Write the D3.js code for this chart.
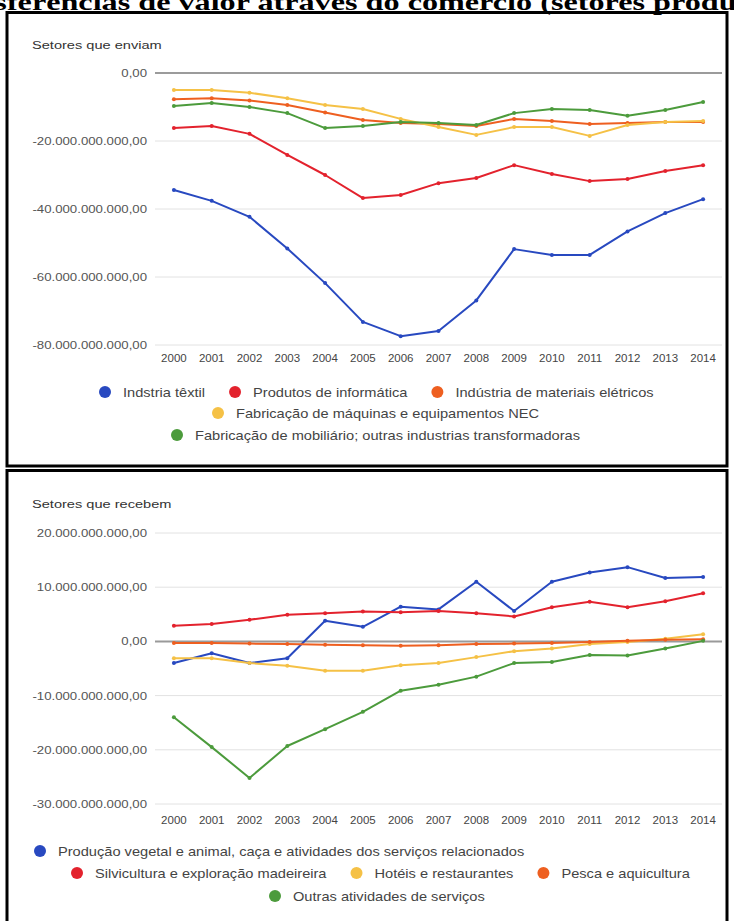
<!DOCTYPE html>
<html><head><meta charset="utf-8">
<script src="https://cdn.jsdelivr.net/npm/d3@7"></script>
<style>
body{margin:0;background:#fff;overflow:hidden}
svg{display:block}
text{font-family:"Liberation Sans",Arial,sans-serif}
</style>
</head><body>
<script>
// ---------- DATA (values in billions) ----------
const years = ["2000","2001","2002","2003","2004","2005","2006","2007","2008","2009","2010","2011","2012","2013","2014"];

const docTitle = "Transferências de valor através do comércio (setores produtivos)";

// Top chart: "Setores que enviam"
const sendTitle = "Setores que enviam";
const sendNames = ["Indstria têxtil","Produtos de informática","Indústria de materiais elétricos","Fabricação de máquinas e equipamentos NEC","Fabricação de mobiliário; outras industrias transformadoras"];
const textil      = [-34.4,-37.6,-42.3,-51.6,-61.8,-73.2,-77.4,-75.9,-66.9,-51.8,-53.5,-53.5,-46.6,-41.2,-37.1];
const informatica = [-16.2,-15.6,-17.9,-24.1,-30.0,-36.8,-35.9,-32.4,-30.9,-27.1,-29.7,-31.8,-31.2,-28.8,-27.1];
const eletricos   = [-7.7,-7.4,-8.1,-9.4,-11.6,-13.8,-14.7,-15.0,-15.6,-13.5,-14.1,-15.0,-14.7,-14.4,-14.4];
const maquinas    = [-5.0,-5.0,-5.8,-7.4,-9.4,-10.6,-13.5,-15.9,-18.2,-15.9,-15.9,-18.5,-15.3,-14.4,-14.1];
const mobiliario  = [-9.7,-8.8,-10.0,-11.8,-16.2,-15.6,-14.4,-14.7,-15.3,-11.8,-10.6,-10.9,-12.6,-10.9,-8.5];
const sendTicks = [0,-20,-40,-60,-80];

// Bottom chart: "Setores que recebem"
const recvTitle = "Setores que recebem";
const recvNames = ["Produção vegetal e animal, caça e atividades dos serviços relacionados","Silvicultura e exploração madeireira","Hotéis e restaurantes","Pesca e aquicultura","Outras atividades de serviços"];
const producao    = [-4.0,-2.2,-4.0,-3.1,3.8,2.7,6.4,5.9,11.0,5.6,11.0,12.7,13.7,11.7,11.9];
const silvicultura= [2.9,3.2,4.0,4.9,5.2,5.5,5.4,5.6,5.2,4.6,6.3,7.3,6.3,7.4,8.9];
const hoteis      = [-3.1,-3.1,-4.0,-4.5,-5.4,-5.4,-4.4,-4.0,-2.9,-1.8,-1.3,-0.5,-0.1,0.5,1.3];
const pesca       = [-0.3,-0.3,-0.4,-0.5,-0.6,-0.7,-0.8,-0.7,-0.5,-0.4,-0.3,-0.1,0.1,0.3,0.4];
const outras      = [-14.0,-19.5,-25.2,-19.3,-16.2,-13.0,-9.1,-8.0,-6.5,-4.0,-3.8,-2.5,-2.6,-1.3,0.1];
const recvTicks = [20,10,0,-10,-20,-30];

const colors = {blue:"#2849c0", red:"#e3222d", orange:"#ee5f20", yellow:"#f5c146", green:"#4c9b3c"};

// ---------- RENDER ----------
const W = 734, H = 921;
const svg = d3.select("body").append("svg").attr("width", W).attr("height", H);

const locale = d3.formatLocale({decimal:",", thousands:".", grouping:[3], currency:["",""], minus:"-"});
const fmt = v => locale.format(",.2f")(v * 1e9);

function stext(g, x, y, str, size, sx, anchor){
  return g.append("text")
    .attr("transform", `translate(${x},${y}) scale(${sx},1)`)
    .attr("text-anchor", anchor || "start")
    .style("font-size", size + "px")
    .text(str);
}

// document title (clipped at top of page, as in the reference)
svg.append("text")
  .attr("transform", "translate(-73,10) scale(1.4,1)")
  .style("font-family", '"Liberation Serif","Times New Roman",serif')
  .style("font-weight", "bold")
  .style("font-size", "23px")
  .attr("fill", "#000")
  .text(docTitle);

// frames
svg.append("rect").attr("x", 7).attr("y", 12.5).attr("width", 720).attr("height", 453.5)
  .attr("fill", "none").attr("stroke", "#000").attr("stroke-width", 3);
svg.append("rect").attr("x", 7).attr("y", 470.5).attr("width", 720).attr("height", 470)
  .attr("fill", "none").attr("stroke", "#000").attr("stroke-width", 3);

const x = d3.scalePoint().domain(years).range([155, 722]).padding(0.5);

function chart(cfg){
  const g = svg.append("g");
  const y = d3.scaleLinear().domain(cfg.domain).range(cfg.range);

  stext(g, 32, cfg.titleY, cfg.title, 11.5, 1.27).attr("fill", "#333");

  // gridlines
  g.selectAll(".grid").data(cfg.ticks.filter(t => t !== 0)).join("line")
    .attr("x1", 155).attr("x2", 722)
    .attr("y1", d => y(d)).attr("y2", d => y(d))
    .attr("stroke", "#e2e2e2").attr("stroke-width", 1);

  // y labels
  cfg.ticks.forEach(t => {
    stext(g, 147, y(t) + 4, fmt(t), 11.5, 1.15, "end").attr("fill", "#555");
  });

  // x labels
  years.forEach(yr => {
    stext(g, x(yr), cfg.xLabelY, yr, 11.5, 1.0, "middle").attr("fill", "#444");
  });

  // zero line
  g.append("line").attr("x1", 155).attr("x2", 722).attr("y1", y(0)).attr("y2", y(0))
    .attr("stroke", cfg.zeroColor).attr("stroke-width", cfg.zeroWidth);

  const line = d3.line().x((d, i) => x(years[i])).y(d => y(d));
  cfg.series.forEach(s => {
    g.append("path").datum(s.values).attr("d", line)
      .attr("fill", "none").attr("stroke", s.color).attr("stroke-width", 2)
      .attr("stroke-linejoin", "round");
    g.selectAll(null).data(s.values).join("circle")
      .attr("cx", (d, i) => x(years[i])).attr("cy", d => y(d)).attr("r", 2)
      .attr("fill", s.color);
  });

  // legend
  cfg.legendRows.forEach(row => {
    let cx = row.x;
    row.items.forEach(idx => {
      const s = cfg.series[idx];
      g.append("circle").attr("cx", cx).attr("cy", row.y).attr("r", 6).attr("fill", s.color);
      const t = stext(g, cx + 18, row.y + 4.5, s.name, 12.5, 1.17).attr("fill", "#444");
      const w = t.node().getComputedTextLength() * 1.17;
      cx = cx + 18 + w + 30;
    });
  });
}

chart({
  title: sendTitle, titleY: 49,
  domain: [-80, 0], range: [345, 73],
  ticks: sendTicks, xLabelY: 362,
  zeroColor: "#7a7a7a", zeroWidth: 1.5,
  series: [
    {name: sendNames[0], values: textil, color: colors.blue},
    {name: sendNames[1], values: informatica, color: colors.red},
    {name: sendNames[2], values: eletricos, color: colors.orange},
    {name: sendNames[3], values: maquinas, color: colors.yellow},
    {name: sendNames[4], values: mobiliario, color: colors.green}
  ],
  legendRows: [
    {x: 105, y: 392, items: [0, 1, 2]},
    {x: 218, y: 413, items: [3]},
    {x: 177, y: 435, items: [4]}
  ]
});

chart({
  title: recvTitle, titleY: 508,
  domain: [-30, 20], range: [804, 533],
  ticks: recvTicks, xLabelY: 824,
  zeroColor: "#9a9a9a", zeroWidth: 2,
  series: [
    {name: recvNames[0], values: producao, color: colors.blue},
    {name: recvNames[1], values: silvicultura, color: colors.red},
    {name: recvNames[2], values: hoteis, color: colors.yellow},
    {name: recvNames[3], values: pesca, color: colors.orange},
    {name: recvNames[4], values: outras, color: colors.green}
  ],
  legendRows: [
    {x: 40, y: 851, items: [0]},
    {x: 77, y: 873, items: [1, 2, 3]},
    {x: 275, y: 896, items: [4]}
  ]
});
</script>
</body></html>
